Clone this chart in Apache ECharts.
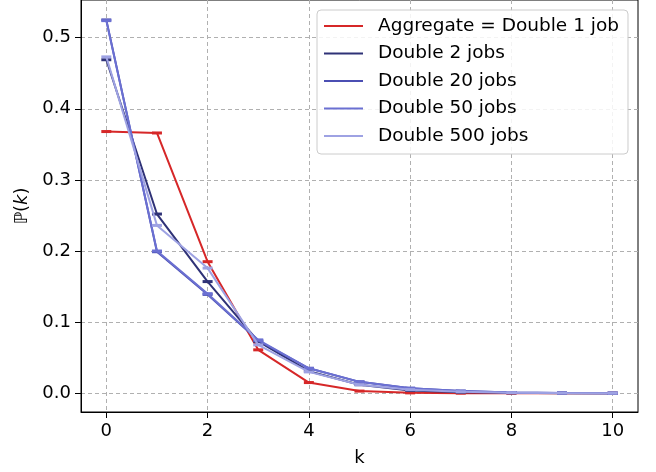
<!DOCTYPE html>
<html>
<head>
<meta charset="utf-8">
<script src="https://cdn.jsdelivr.net/npm/echarts@6/dist/echarts.min.js"></script>
<style>
  html, body { margin: 0; padding: 0; background: #fff; }
  #chart { width: 656px; height: 472px; }
</style>
</head>
<body>
<div id="chart"></div>
<script>
// k values and probability estimates P(k) for each job split
const kValues = [0, 1, 2, 3, 4, 5, 6, 7, 8, 9, 10];
const double1 = [0.368, 0.366, 0.185, 0.061, 0.015, 0.003, 0.0005, 0.0001, 0, 0, 0];
const double2 = [0.469, 0.252, 0.157, 0.073, 0.031, 0.012, 0.004, 0.0015, 0.0005, 0.0001, 0];
const double20 = [0.525, 0.199, 0.139, 0.074, 0.035, 0.016, 0.007, 0.003, 0.001, 0.0004, 0.0001];
const double50 = [0.524, 0.200, 0.140, 0.075, 0.035, 0.016, 0.007, 0.003, 0.001, 0.0004, 0.0001];
const double500 = [0.473, 0.236, 0.176, 0.068, 0.030, 0.012, 0.005, 0.002, 0.0007, 0.0002, 0.0001];

const seriesNames = ['Aggregate = Double 1 job', 'Double 2 jobs', 'Double 20 jobs', 'Double 50 jobs', 'Double 500 jobs'];
const seriesValues = [double1, double2, double20, double50, double500];
const seriesColors = ['#d62728', '#2f3277', '#4b4fb3', '#6b70d2', '#9ea2e3'];

const xTicks = [0, 2, 4, 6, 8, 10];
const yTicks = [0, 0.1, 0.2, 0.3, 0.4, 0.5];

const font = 'DejaVu Sans';
const chart = echarts.init(document.getElementById('chart'), null, { renderer: 'canvas' });

const gridLine = { show: true, lineStyle: { color: '#b0b0b0', width: 1, type: [4, 3] } };

chart.setOption({
  animation: false,
  backgroundColor: '#ffffff',
  grid: {
    left: 81, right: 18, top: 0, bottom: 58,
    show: true, borderColor: '#000', borderWidth: 1, backgroundColor: 'transparent'
  },
  xAxis: {
    type: 'value', min: -0.5, max: 10.5,
    name: 'k', nameLocation: 'middle', nameGap: 37,
    nameTextStyle: { fontFamily: font, fontSize: 18, color: '#000' },
    axisLine: { show: true, onZero: false, lineStyle: { color: '#000', width: 1 } },
    axisTick: { show: true, length: 6, customValues: xTicks, lineStyle: { color: '#000' } },
    axisLabel: { customValues: xTicks, margin: 10, fontFamily: font, fontSize: 18, color: '#000' },
    splitLine: gridLine
  },
  yAxis: {
    type: 'value', min: -0.0264, max: 0.553,
    name: '{n|ℙ(}{i|k}{n|)}', nameLocation: 'middle', nameGap: 48, nameRotate: 90,
    nameTextStyle: {
      rich: {
        n: { fontFamily: font, fontSize: 18, color: '#000' },
        i: { fontFamily: font, fontSize: 18, fontStyle: 'italic', color: '#000' }
      }
    },
    axisLine: { show: true, onZero: false, lineStyle: { color: '#000', width: 1 } },
    axisTick: { show: true, length: 6, customValues: yTicks, lineStyle: { color: '#000' } },
    axisLabel: {
      customValues: yTicks, margin: 10, fontFamily: font, fontSize: 18, color: '#000',
      formatter: v => v.toFixed(1)
    },
    splitLine: gridLine
  },
  legend: {
    orient: 'vertical', left: 317, top: 10,
    padding: [6, 9, 8, 7],
    itemGap: 7.5, itemWidth: 39, itemHeight: 2,
    backgroundColor: 'rgba(255,255,255,0.85)',
    borderColor: '#cccccc', borderWidth: 1, borderRadius: 4,
    textStyle: { fontFamily: font, fontSize: 18.5, color: '#000', lineHeight: 20, padding: [0, 0, 0, 10] },
    data: seriesNames.map(n => ({ name: n, icon: 'rect' }))
  },
  series: seriesNames.map((name, i) => ({
    name: name,
    type: 'line',
    data: kValues.map((k, j) => [k, seriesValues[i][j]]),
    symbol: 'rect',
    symbolSize: [10, 3],
    showAllSymbol: true,
    color: seriesColors[i],
    itemStyle: { color: seriesColors[i] },
    lineStyle: { color: seriesColors[i], width: 2 },
    z: 2 + i
  }))
});
</script>
</body>
</html>
